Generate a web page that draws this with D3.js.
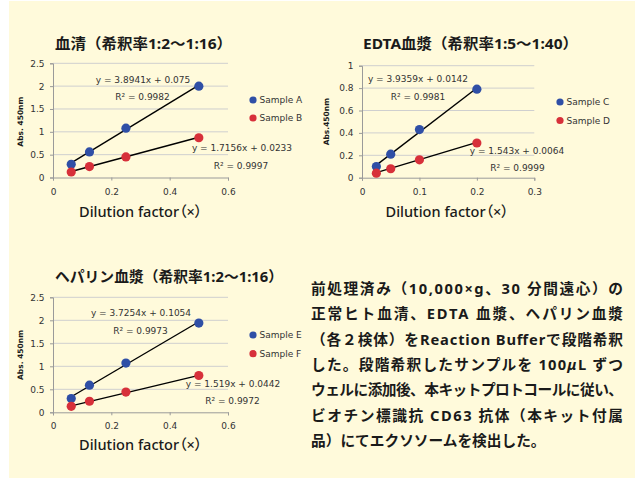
<!DOCTYPE html>
<html>
<head>
<meta charset="utf-8">
<script src="https://cdn.jsdelivr.net/npm/d3@7"></script>
<style>
  html, body { margin: 0; padding: 0; background: #ffffff; }
  svg { display: block; }
  .palt { font-feature-settings: "palt" 1; }
</style>
</head>
<body>
<svg id="fig" width="635" height="479"></svg>
<script>
// ---- data ----
const serumDilution = [0.0625, 0.125, 0.25, 0.5];
const sampleA = [0.29, 0.56, 1.08, 2.00];
const sampleB = [0.12, 0.24, 0.45, 0.87];
const fitA = { slope: 3.8941, intercept: 0.075, r2: "0.9982", eq: "y = 3.8941x + 0.075" };
const fitB = { slope: 1.7156, intercept: 0.0233, r2: "0.9997", eq: "y = 1.7156x + 0.0233" };

const edtaDilution = [0.025, 0.05, 0.1, 0.2];
const sampleC = [0.10, 0.21, 0.43, 0.79];
const sampleD = [0.04, 0.08, 0.16, 0.31];
const fitC = { slope: 3.9359, intercept: 0.0142, r2: "0.9981", eq: "y = 3.9359x + 0.0142" };
const fitD = { slope: 1.543, intercept: 0.0064, r2: "0.9999", eq: "y = 1.543x + 0.0064" };

const heparinDilution = [0.0625, 0.125, 0.25, 0.5];
const sampleE = [0.30, 0.59, 1.07, 1.94];
const sampleF = [0.13, 0.24, 0.44, 0.80];
const fitE = { slope: 3.7254, intercept: 0.1054, r2: "0.9973", eq: "y = 3.7254x + 0.1054" };
const fitF = { slope: 1.519, intercept: 0.0442, r2: "0.9972", eq: "y = 1.519x + 0.0442" };

const ticksY25 = [0, 0.5, 1, 1.5, 2, 2.5];
const ticksY1 = [0, 0.2, 0.4, 0.6, 0.8, 1];
const ticksX06 = [0, 0.2, 0.4, 0.6];
const ticksX03 = [0, 0.1, 0.2, 0.3];

const titleSerum = "血清（希釈率1:2～1:16）";
const titleEdta = "EDTA血漿（希釈率1:5～1:40）";
const titleHeparin = "ヘパリン血漿（希釈率1:2～1:16）";
const xTitle = "Dilution factor（×）";

const noteLines = [
  "前処理済み（10,000×g、30 分間遠心）の",
  "正常ヒト血清、EDTA 血漿、ヘパリン血漿",
  "（各２検体）をReaction Bufferで段階希釈",
  "した。段階希釈したサンプルを 100μL ずつ",
  "ウェルに添加後、本キットプロトコールに従い、",
  "ビオチン標識抗 CD63 抗体（本キット付属",
  "品）にてエクソソームを検出した。"
];

// ---- styling ----
const BLUE = "#2f4fa6";
const RED = "#d7303a";
// proportional Latin glyphs first, CJK glyphs from the JP face
const MIXED = "'Noto Sans', 'Noto Sans CJK JP', sans-serif";
const LATIN = "'DejaVu Sans', Verdana, sans-serif";

const svg = d3.select("#fig");

// pale yellow panel with a thin white margin on the left
svg.append("rect").attr("x", 9).attr("y", 1).attr("width", 626).attr("height", 477)
  .attr("fill", "#fffadb");

function drawChart(cfg) {
  const g = svg.append("g");
  const x = d3.scaleLinear().domain(cfg.xDomain).range(cfg.xRange);
  const y = d3.scaleLinear().domain(cfg.yDomain).range(cfg.yRange);

  // horizontal gridlines
  g.append("g").selectAll("line")
    .data(cfg.yTicks.filter(d => d > 0))
    .join("line")
    .attr("x1", cfg.xRange[0]).attr("x2", cfg.xRange[1])
    .attr("y1", d => y(d)).attr("y2", d => y(d))
    .attr("stroke", "#cfcfcf").attr("stroke-width", 1);

  const fmt = d => String(d);

  const yAxis = g.append("g").attr("transform", `translate(${cfg.xRange[0]},0)`)
    .call(d3.axisLeft(y).tickValues(cfg.yTicks).tickFormat(fmt).tickSizeOuter(0).tickSize(3).tickPadding(5.5));
  const xAxis = g.append("g").attr("transform", `translate(0,${cfg.yRange[0]})`)
    .call(d3.axisBottom(x).tickValues(cfg.xTicks).tickFormat(fmt).tickSizeOuter(0).tickSize(3).tickPadding(cfg.xPad));
  [yAxis, xAxis].forEach(a => {
    a.select(".domain").attr("stroke", "#9a9a9a");
    a.selectAll(".tick line").attr("stroke", "#9a9a9a");
    a.selectAll("text").attr("font-family", LATIN).attr("font-size", 9).attr("fill", "#333");
  });

  // series: trend line from the fitted equation, then points
  cfg.series.forEach(s => {
    const x0 = cfg.xs[0], x1 = cfg.xs[cfg.xs.length - 1];
    g.append("line")
      .attr("x1", x(x0)).attr("y1", y(s.fit.slope * x0 + s.fit.intercept))
      .attr("x2", x(x1)).attr("y2", y(s.fit.slope * x1 + s.fit.intercept))
      .attr("stroke", "#000").attr("stroke-width", 1.4);
  });
  cfg.series.forEach(s => {
    g.append("g").selectAll("circle")
      .data(s.values)
      .join("circle")
      .attr("cx", (d, i) => x(cfg.xs[i]))
      .attr("cy", d => y(d))
      .attr("r", 4.6)
      .attr("fill", s.color);
  });

  // fit equations and R² labels
  cfg.series.forEach(s => {
    g.append("text").attr("x", s.eqPos[0]).attr("y", s.eqPos[1])
      .attr("text-anchor", "middle").attr("dominant-baseline", "central")
      .attr("font-family", LATIN).attr("font-size", 9).attr("fill", "#333")
      .text(s.fit.eq);
    g.append("text").attr("x", s.r2Pos[0]).attr("y", s.r2Pos[1])
      .attr("text-anchor", "middle").attr("dominant-baseline", "central")
      .attr("font-family", LATIN).attr("font-size", 9).attr("fill", "#333")
      .text("R² = " + s.fit.r2);
  });

  // legend
  cfg.series.forEach((s, i) => {
    const ly = cfg.legend[1] + i * cfg.legendStep;
    g.append("circle").attr("cx", cfg.legend[0]).attr("cy", ly).attr("r", 3.6).attr("fill", s.color);
    g.append("text").attr("x", cfg.legend[0] + 6.5).attr("y", ly)
      .attr("dominant-baseline", "central")
      .attr("font-family", LATIN).attr("font-size", 9).attr("fill", "#333")
      .text(s.name);
  });

  // titles
  g.append("text").attr("x", cfg.title[0]).attr("y", cfg.title[1])
    .attr("text-anchor", "middle").attr("dominant-baseline", "central")
    .attr("font-family", MIXED).attr("font-weight", 700).attr("font-size", 14.5)
    .attr("fill", "#1a1a1a")
    .attr("textLength", cfg.title[2]).attr("lengthAdjust", "spacingAndGlyphs")
    .text(cfg.titleText);

  g.append("text").attr("class", "palt")
    .attr("x", cfg.xTitle[0]).attr("y", cfg.xTitle[1])
    .attr("text-anchor", "middle").attr("dominant-baseline", "central")
    .attr("font-family", MIXED).attr("font-weight", 500).attr("font-size", 14.5)
    .attr("fill", "#1a1a1a")
    .attr("textLength", 123).attr("lengthAdjust", "spacingAndGlyphs")
    .text(xTitle);

  g.append("text")
    .attr("transform", `translate(${cfg.yTitle[0]},${cfg.yTitle[1]}) rotate(-90)`)
    .attr("text-anchor", "middle").attr("dominant-baseline", "central")
    .attr("font-family", LATIN).attr("font-weight", 700).attr("font-size", 7.5)
    .attr("fill", "#1a1a1a")
    .text(cfg.yTitleText);
}

drawChart({
  xs: serumDilution,
  xDomain: [0, 0.6], xRange: [53, 228],
  yDomain: [0, 2.5], yRange: [177.5, 63.3],
  xTicks: ticksX06, yTicks: ticksY25, xPad: 8,
  series: [
    { name: "Sample A", values: sampleA, fit: fitA, color: BLUE, eqPos: [143, 80], r2Pos: [142.5, 97] },
    { name: "Sample B", values: sampleB, fit: fitB, color: RED, eqPos: [242, 148], r2Pos: [241, 166] }
  ],
  legend: [253, 100], legendStep: 18,
  title: [143.5, 43.3, 177], titleText: titleSerum,
  xTitle: [140.5, 211],
  yTitle: [20, 121.7], yTitleText: "Abs. 450nm"
});

drawChart({
  xs: edtaDilution,
  xDomain: [0, 0.3], xRange: [362, 534.3],
  yDomain: [0, 1], yRange: [177.7, 65.7],
  xTicks: ticksX03, yTicks: ticksY1, xPad: 8,
  series: [
    { name: "Sample C", values: sampleC, fit: fitC, color: BLUE, eqPos: [418, 79], r2Pos: [418, 96.7] },
    { name: "Sample D", values: sampleD, fit: fitD, color: RED, eqPos: [517, 151], r2Pos: [517.5, 168] }
  ],
  legend: [560, 102], legendStep: 18.5,
  title: [470.5, 42.7, 215], titleText: titleEdta,
  xTitle: [447, 211],
  yTitle: [326, 121.7], yTitleText: "Abs.450nm"
});

drawChart({
  xs: heparinDilution,
  xDomain: [0, 0.6], xRange: [53, 228],
  yDomain: [0, 2.5], yRange: [412.3, 297.3],
  xTicks: ticksX06, yTicks: ticksY25, xPad: 7,
  series: [
    { name: "Sample E", values: sampleE, fit: fitE, color: BLUE, eqPos: [141, 313], r2Pos: [140.5, 331] },
    { name: "Sample F", values: sampleF, fit: fitF, color: RED, eqPos: [233, 383.7], r2Pos: [232.5, 401] }
  ],
  legend: [253, 335], legendStep: 18.7,
  title: [169, 275.7, 228], titleText: titleHeparin,
  xTitle: [140.5, 444],
  yTitle: [20, 355], yTitleText: "Abs. 450nm"
});

// description paragraph (justified lines, last line ragged)
const note = svg.append("g");
noteLines.forEach((line, i) => {
  const t = note.append("text")
    .attr("x", 311).attr("y", 288 + i * 25.3)
    .attr("dominant-baseline", "central")
    .attr("font-family", MIXED).attr("font-weight", 700).attr("font-size", 14.7)
    .attr("fill", "#1a1a1a");
  if (i < noteLines.length - 1) {
    t.attr("textLength", 312).attr("lengthAdjust", "spacing");
  }
  const parts = line.split("μ");
  parts.forEach((p, k) => {
    if (k > 0) t.append("tspan").attr("font-style", "italic").text("μ");
    t.append("tspan").text(p);
  });
});
</script>
</body>
</html>
